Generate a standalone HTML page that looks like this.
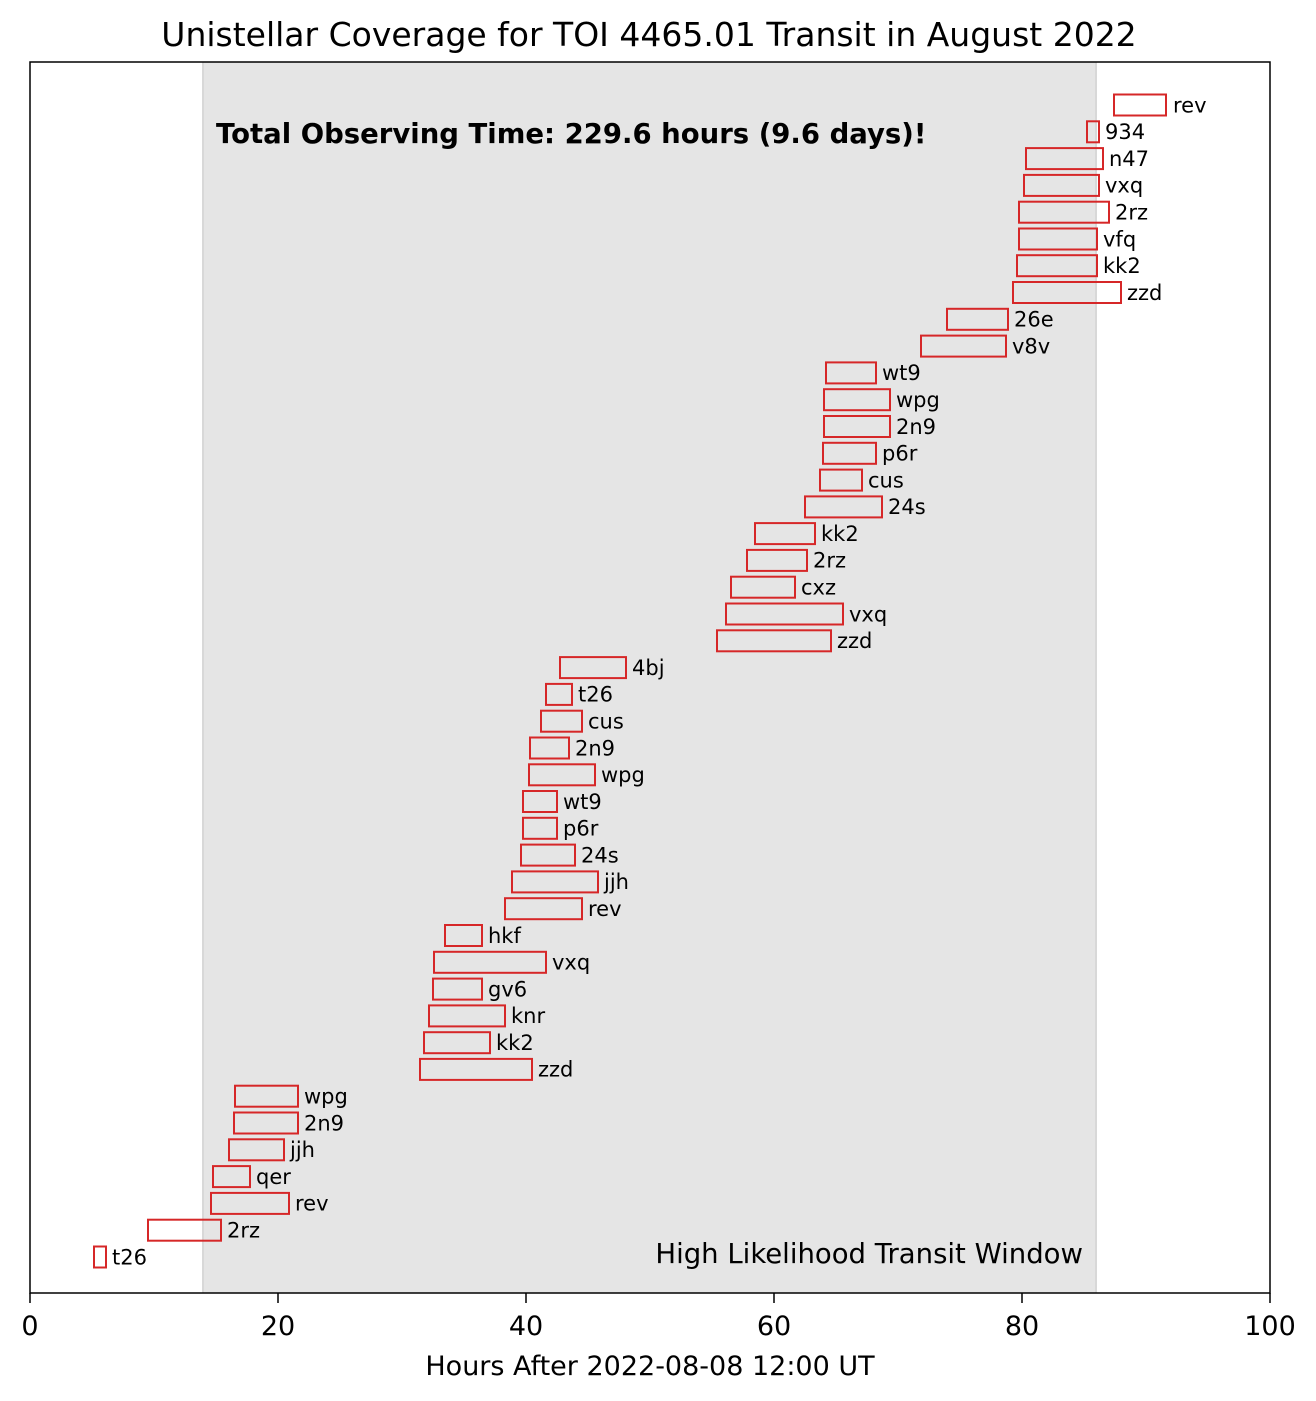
<!DOCTYPE html><html><head><style>body{margin:0;background:#fff}svg{display:block}text{font-family:"DejaVu Sans","Liberation Sans",sans-serif}</style></head><body>
<svg width="1316" height="1401" xmlns="http://www.w3.org/2000/svg">
<rect x="203" y="62" width="893" height="1231" fill="#e5e5e5"/>
<line x1="203" y1="62" x2="203" y2="1293" stroke="#d8d8d8" stroke-width="2"/>
<line x1="1096" y1="62" x2="1096" y2="1293" stroke="#d8d8d8" stroke-width="2"/>
<text x="649" y="46" font-size="33" text-anchor="middle">Unistellar Coverage for TOI 4465.01 Transit in August 2022</text>
<text x="216" y="143" font-size="27.5" font-weight="bold">Total Observing Time: 229.6 hours (9.6 days)!</text>
<text x="1083" y="1263" font-size="27.5" text-anchor="end">High Likelihood Transit Window</text>
<g fill="none" stroke="#d62728" stroke-width="2">
<rect x="1114" y="94.5" width="52" height="21"/><rect x="1087" y="121.3" width="12" height="21"/><rect x="1026" y="148.1" width="77" height="21"/><rect x="1024" y="174.9" width="75" height="21"/><rect x="1019" y="201.7" width="90" height="21"/><rect x="1019" y="228.5" width="78" height="21"/><rect x="1017" y="255.2" width="80" height="21"/><rect x="1013" y="282" width="108" height="21"/><rect x="947" y="308.8" width="61" height="21"/><rect x="921" y="335.6" width="85" height="21"/><rect x="826" y="362.4" width="50" height="21"/><rect x="824" y="389.2" width="66" height="21"/><rect x="824" y="416" width="66" height="21"/><rect x="823" y="442.8" width="53" height="21"/><rect x="820" y="469.6" width="42" height="21"/><rect x="805" y="496.4" width="77" height="21"/><rect x="755" y="523.1" width="60" height="21"/><rect x="747" y="549.9" width="60" height="21"/><rect x="731" y="576.7" width="64" height="21"/><rect x="726" y="603.5" width="117" height="21"/><rect x="717" y="630.3" width="114" height="21"/><rect x="560" y="657.1" width="66" height="21"/><rect x="546" y="683.9" width="26" height="21"/><rect x="541" y="710.7" width="41" height="21"/><rect x="530" y="737.5" width="39" height="21"/><rect x="529" y="764.3" width="66" height="21"/><rect x="523" y="791" width="34" height="21"/><rect x="523" y="817.8" width="34" height="21"/><rect x="521" y="844.6" width="54" height="21"/><rect x="512" y="871.4" width="86" height="21"/><rect x="505" y="898.2" width="77" height="21"/><rect x="445" y="925" width="37" height="21"/><rect x="434" y="951.8" width="112" height="21"/><rect x="433" y="978.6" width="49" height="21"/><rect x="429" y="1005.4" width="76" height="21"/><rect x="424" y="1032.2" width="66" height="21"/><rect x="420" y="1058.9" width="112" height="21"/><rect x="235" y="1085.7" width="63" height="21"/><rect x="234" y="1112.5" width="64" height="21"/><rect x="229" y="1139.3" width="55" height="21"/><rect x="213" y="1166.1" width="37" height="21"/><rect x="211" y="1192.9" width="78" height="21"/><rect x="148" y="1219.7" width="73" height="21"/><rect x="94" y="1246.5" width="12" height="21"/>
</g>
<g font-size="21" transform="translate(0,0.8)">
<text x="1173" y="111.5">rev</text><text x="1105" y="138.3">934</text><text x="1109" y="165.1">n47</text><text x="1105" y="191.9">vxq</text><text x="1115" y="218.7">2rz</text><text x="1103" y="245.5">vfq</text><text x="1103" y="272.2">kk2</text><text x="1127" y="299">zzd</text><text x="1014" y="325.8">26e</text><text x="1012" y="352.6">v8v</text><text x="882" y="379.4">wt9</text><text x="896" y="406.2">wpg</text><text x="896" y="433">2n9</text><text x="882" y="459.8">p6r</text><text x="868" y="486.6">cus</text><text x="888" y="513.4">24s</text><text x="821" y="540.1">kk2</text><text x="813" y="566.9">2rz</text><text x="801" y="593.7">cxz</text><text x="849" y="620.5">vxq</text><text x="837" y="647.3">zzd</text><text x="632" y="674.1">4bj</text><text x="578" y="700.9">t26</text><text x="588" y="727.7">cus</text><text x="575" y="754.5">2n9</text><text x="601" y="781.3">wpg</text><text x="563" y="808">wt9</text><text x="563" y="834.8">p6r</text><text x="581" y="861.6">24s</text><text x="604" y="888.4">jjh</text><text x="588" y="915.2">rev</text><text x="488" y="942">hkf</text><text x="552" y="968.8">vxq</text><text x="488" y="995.6">gv6</text><text x="511" y="1022.4">knr</text><text x="496" y="1049.2">kk2</text><text x="538" y="1075.9">zzd</text><text x="304" y="1102.7">wpg</text><text x="304" y="1129.5">2n9</text><text x="290" y="1156.3">jjh</text><text x="256" y="1183.1">qer</text><text x="295" y="1209.9">rev</text><text x="227" y="1236.7">2rz</text><text x="112" y="1263.5">t26</text>
</g>
<rect x="30" y="62" width="1240" height="1231" fill="none" stroke="#000" stroke-width="1.5"/>
<g stroke="#000" stroke-width="1.5"><line x1="30" y1="1293" x2="30" y2="1303"/><line x1="278" y1="1293" x2="278" y2="1303"/><line x1="526" y1="1293" x2="526" y2="1303"/><line x1="774" y1="1293" x2="774" y2="1303"/><line x1="1022" y1="1293" x2="1022" y2="1303"/><line x1="1270" y1="1293" x2="1270" y2="1303"/></g>
<g font-size="27" text-anchor="middle"><text x="30" y="1335">0</text><text x="278" y="1335">20</text><text x="526" y="1335">40</text><text x="774" y="1335">60</text><text x="1022" y="1335">80</text><text x="1270" y="1335">100</text></g>
<text x="650" y="1375" font-size="27" text-anchor="middle">Hours After 2022-08-08 12:00 UT</text>
</svg></body></html>
